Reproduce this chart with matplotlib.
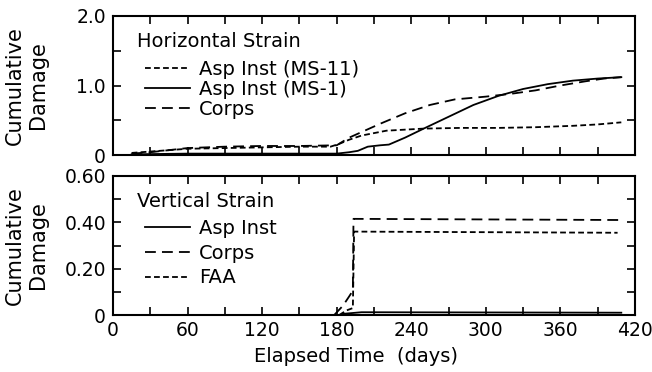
import matplotlib
matplotlib.use("Agg")
import matplotlib.pyplot as plt
from matplotlib.ticker import MultipleLocator, FixedLocator

plt.rcParams['font.family'] = ['DejaVu Sans']

# horizontal strain (top panel)
days_ms11 = [15, 30, 45, 60, 90, 120, 150, 175, 182, 190, 200, 220, 250, 280, 310, 340, 370, 390, 409]
dmg_ms11 = [0.03, 0.05, 0.07, 0.09, 0.10, 0.11, 0.12, 0.12, 0.16, 0.22, 0.28, 0.35, 0.38, 0.39, 0.39, 0.40, 0.42, 0.44, 0.47]

days_ms1 = [15, 60, 120, 180, 190, 197, 205, 215, 222, 235, 250, 270, 290, 310, 330, 350, 370, 390, 409]
dmg_ms1 = [0.01, 0.02, 0.02, 0.02, 0.04, 0.06, 0.12, 0.14, 0.15, 0.25, 0.38, 0.55, 0.72, 0.85, 0.95, 1.02, 1.07, 1.10, 1.12]

days_corps_h = [15, 30, 45, 60, 90, 120, 150, 180, 190, 200, 215, 235, 255, 275, 300, 320, 340, 360, 380, 395, 409]
dmg_corps_h = [0.02, 0.04, 0.07, 0.10, 0.12, 0.13, 0.13, 0.14, 0.25, 0.33, 0.45, 0.60, 0.72, 0.80, 0.84, 0.88, 0.93, 1.00, 1.06, 1.10, 1.12]

# vertical strain (bottom panel)
days_asp_v = [185, 200, 409]
dmg_asp_v = [0.005, 0.012, 0.010]

days_corps_v = [178, 185, 190, 193, 193.5, 409]
dmg_corps_v = [0.0, 0.04, 0.08, 0.105, 0.415, 0.41]

days_faa_v = [182, 188, 193, 194, 406]
dmg_faa_v = [0.0, 0.02, 0.03, 0.36, 0.355]

short_dash = (3.2, 1.8)
long_dash = (6.0, 3.4)
lw = 1.3

fig = plt.figure(figsize=(6.52, 3.72), dpi=100)
ax1 = fig.add_axes([0.1733, 0.5833, 0.8006, 0.3737])
ax2 = fig.add_axes([0.1733, 0.1532, 0.8006, 0.3737])

ax1.plot(days_ms11, dmg_ms11, color='black', lw=lw, dashes=short_dash, label='Asp Inst (MS-11)')
ax1.plot(days_ms1, dmg_ms1, color='black', lw=lw, label='Asp Inst (MS-1)')
ax1.plot(days_corps_h, dmg_corps_h, color='black', lw=lw, dashes=long_dash, label='Corps')

ax2.plot(days_asp_v, dmg_asp_v, color='black', lw=lw, label='Asp Inst')
ax2.plot(days_corps_v, dmg_corps_v, color='black', lw=lw, dashes=long_dash, label='Corps')
ax2.plot(days_faa_v, dmg_faa_v, color='black', lw=lw, dashes=short_dash, label='FAA')

for ax in (ax1, ax2):
    ax.set_xlim(0, 420)
    ax.xaxis.set_major_locator(MultipleLocator(60))
    ax.xaxis.set_minor_locator(MultipleLocator(30))
    ax.tick_params(which='both', direction='in', top=True, right=True,
                   length=6, width=1.2, labelsize=13.5)
    ax.tick_params(axis='y', pad=5)
    for sp in ax.spines.values():
        sp.set_linewidth(1.5)
    ax.set_ylabel('Cumulative\nDamage', fontsize=15)
    ax.yaxis.set_label_coords(-0.1245, 0.5)

ax1.set_ylim(0, 2.0)
ax1.yaxis.set_major_locator(FixedLocator([0, 1.0, 2.0]))
ax1.yaxis.set_minor_locator(FixedLocator([0.5, 1.5]))
ax1.set_yticklabels(['0', '1.0', '2.0'])
ax1.tick_params(axis='x', labelbottom=False)

ax2.set_ylim(0, 0.6)
ax2.yaxis.set_major_locator(FixedLocator([0, 0.2, 0.4, 0.6]))
ax2.yaxis.set_minor_locator(FixedLocator([0.1, 0.3, 0.5]))
ax2.set_yticklabels(['0', '0.20', '0.40', '0.60'])
ax2.tick_params(axis='x', pad=4)
ax2.set_xlabel('Elapsed Time  (days)', fontsize=14, x=0.466, labelpad=5)

# legend titles as plain text, entries via legend
ax1.text(0.046, 0.813, 'Horizontal Strain', transform=ax1.transAxes,
         fontsize=14, va='center', ha='left')
ax2.text(0.046, 0.82, 'Vertical Strain', transform=ax2.transAxes,
         fontsize=14, va='center', ha='left')

ax1.legend(loc='upper left', bbox_to_anchor=(0.061, 0.687), frameon=False,
           fontsize=14, handlelength=2.3, handletextpad=0.5, labelspacing=0.07,
           borderaxespad=0, borderpad=0)
ax2.legend(loc='upper left', bbox_to_anchor=(0.061, 0.693), frameon=False,
           fontsize=14, handlelength=2.3, handletextpad=0.5, labelspacing=0.3,
           borderaxespad=0, borderpad=0)

fig.savefig('out.png', dpi=100)
